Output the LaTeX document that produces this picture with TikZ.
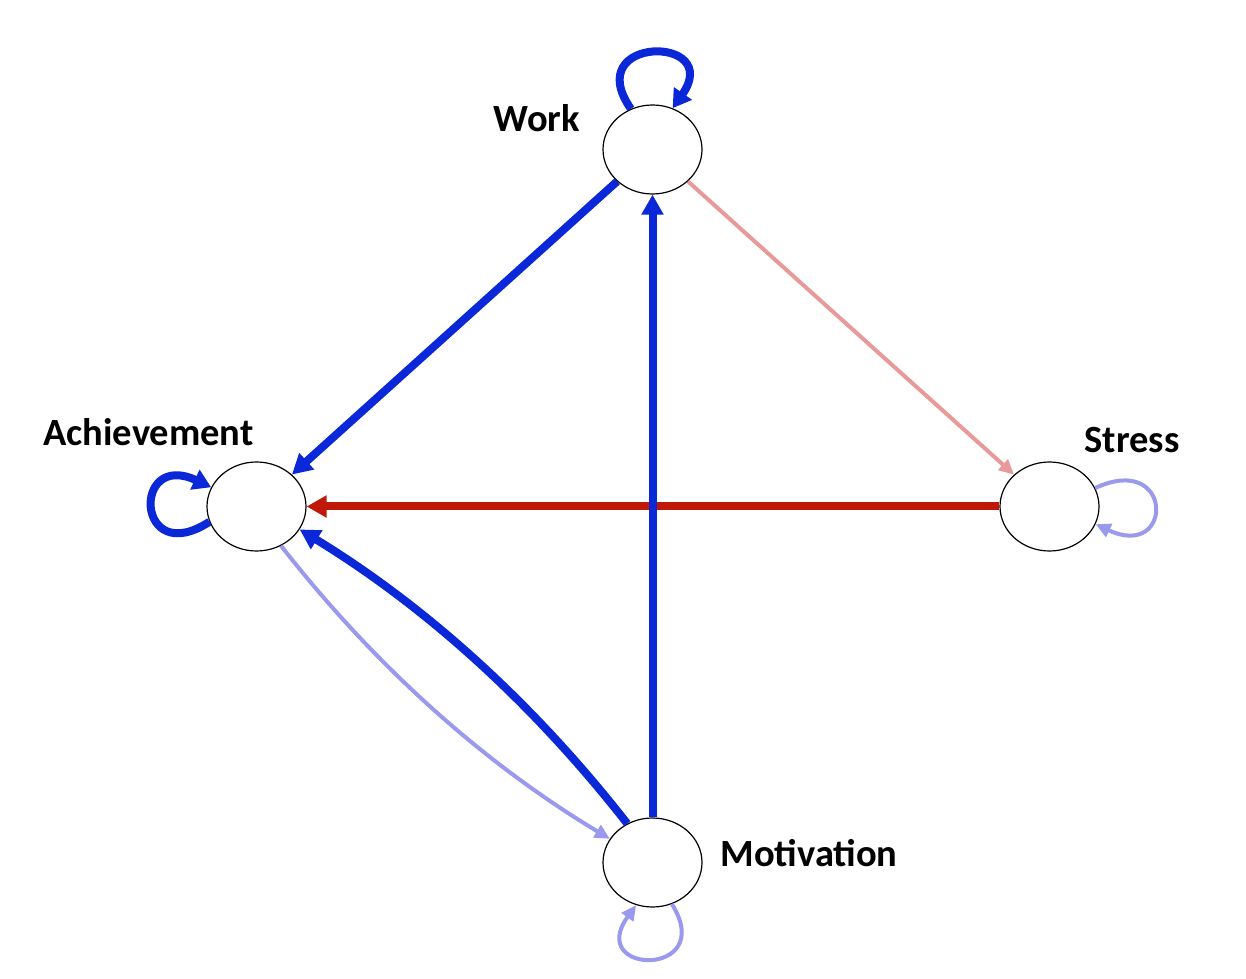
\documentclass[tikz,border=0pt]{standalone}
\usepackage{fontspec}
\setmainfont{Carlito}
\usetikzlibrary{arrows.meta,shapes.geometric}
\definecolor{sblue}{RGB}{10,40,216}
\definecolor{lblue}{RGB}{153,153,238}
\definecolor{sred}{RGB}{192,24,8}
\definecolor{spink}{RGB}{232,154,154}
\begin{document}
\begin{tikzpicture}[x=1pt,y=1pt,
  state/.style={ellipse,draw=black,line width=1.2pt,fill=white,minimum width=99pt,minimum height=89pt,inner sep=0pt},
  lab/.style={font=\bfseries\fontsize{38.5}{42}\selectfont,anchor=base,inner sep=0pt},
  strong/.style={line width=8pt,-{Triangle[length=20pt,width=21pt]}},
  weak/.style={line width=4pt,-{Triangle[length=15pt,width=14pt]}}]
\useasboundingbox (0,0) rectangle (1246,978);
\node[state] (W) at (652.5,828.5) {};
\node[state] (A) at (256.5,471.5) {};
\node[state] (S) at (1049.5,471.5) {};
\node[state] (M) at (652.5,115.5) {};
\node[lab] (lW) at (537,846) {Work};
\node[lab] (lA) at (148.5,532) {Achievement};
\node[lab] (lS) at (1132,525) {Stress};
\node[lab] (lM) at (809,112) {Motivation};
% edges
\draw[strong,sred] (S) -- (A);
\draw[weak,spink] (W) -- (S);
\draw[strong,sblue] (W) -- (A);
\draw[strong,sblue] (M) -- (W);
\draw[strong,sblue] (M.123) .. controls +(128:150) and +(-31.4:150) .. (A.-28);
\draw[weak,lblue] (A.-58) .. controls +(-52:150) and +(149:150) .. (M.151);
% loops
\draw[strong,sblue,-{Triangle[length=18pt,width=21pt]}] (W.118) .. controls +(125:90) and +(55:90) .. (W.64);
\draw[strong,sblue,-{Triangle[length=18pt,width=21pt]}] (A.198) .. controls +(213:88) and +(155:88) .. (A.157);
\draw[weak,lblue] (S.22) .. controls +(25:87) and +(-25:87) .. (S.-21);
\draw[weak,lblue] (M.-65) .. controls +(-58:87) and +(234:87) .. (M.-111);
\end{tikzpicture}
\end{document}
